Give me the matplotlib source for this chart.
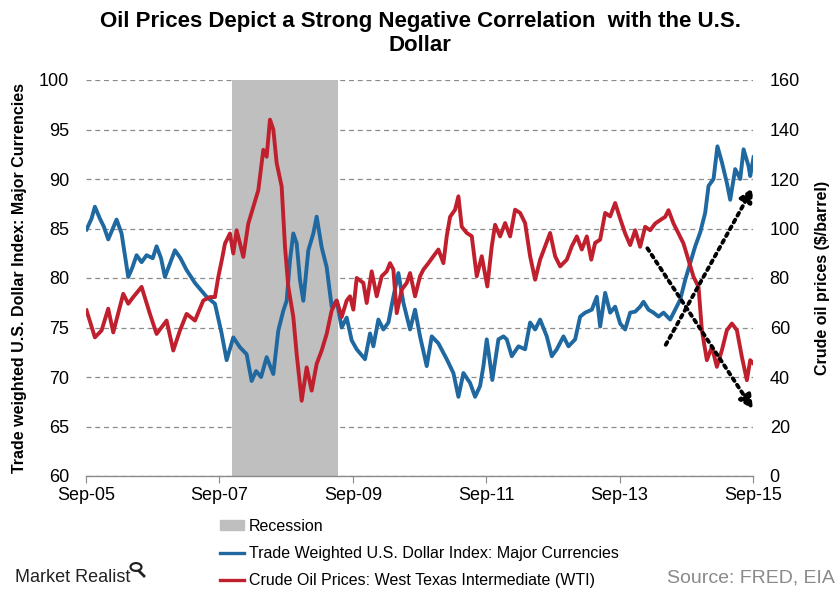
import matplotlib
matplotlib.use('Agg')
import matplotlib.pyplot as plt
from matplotlib.patches import Patch, Circle
from matplotlib.lines import Line2D

# months since Sep-2005 and index level
usd_months = [0.1, 1.0, 1.6, 2.5, 3.2, 4.0, 5.5, 6.4, 7.6, 8.3, 9.1, 10.0, 10.9, 12.0,
              12.7, 13.5, 14.2, 16.0, 17.0, 18.1, 19.6, 21.7, 23.2, 24.4, 25.3, 26.5,
              27.7, 28.9, 29.8, 30.6, 31.5, 32.5, 33.7, 34.6, 35.5, 36.1, 36.7, 37.3,
              37.9, 38.5, 39.1, 40.0, 40.9, 41.5, 42.4, 43.3, 44.2, 45.1, 46.0, 46.9,
              47.8, 48.7, 50.2, 51.1, 51.7, 52.6, 53.5, 54.4, 55.3, 56.2, 57.1, 58.3,
              59.2, 60.1, 61.3, 62.2, 63.4, 64.9, 66.1, 67.0, 67.9, 69.1, 70.0, 70.9,
              71.5, 72.1, 72.7, 73.1, 74.2, 75.1, 75.7, 76.6, 77.8, 79.0, 79.9, 80.8,
              81.7, 82.9, 83.8, 84.7, 85.9, 86.8, 88.0, 88.9, 89.8, 91.0, 91.9, 92.5,
              93.4, 94.3, 95.2, 96.1, 97.0, 97.9, 98.8, 99.7, 100.3, 101.2, 102.1, 103.0,
              103.9, 105.1, 106.0, 106.9, 107.8, 108.7, 109.6, 110.5, 111.4, 112.0, 112.9,
              113.6, 114.4, 115.3, 115.9, 116.8, 117.7, 118.3, 119.2, 119.5, 120.1]
usd_index = [84.9, 86.0, 87.2, 86.0, 85.2, 83.9, 85.9, 84.5, 80.1, 81.0, 82.3, 81.6, 82.3, 82.0,
             83.2, 82.0, 80.1, 82.8, 82.0, 80.8, 79.5, 78.1, 77.4, 74.4, 71.7, 74.0,
             73.0, 72.3, 69.6, 70.6, 70.0, 72.0, 70.3, 74.7, 76.7, 77.7, 81.8, 84.5,
             83.5, 79.8, 77.7, 82.8, 84.5, 86.2, 83.1, 81.1, 77.1, 77.7, 75.0, 76.0,
             73.7, 72.8, 71.8, 74.4, 73.1, 75.8, 74.8, 75.5, 78.1, 80.5, 77.5, 74.8,
             76.8, 74.1, 71.1, 74.1, 73.4, 71.8, 70.4, 68.0, 70.4, 69.4, 68.0, 69.1,
             71.1, 73.8, 71.4, 69.7, 73.8, 74.1, 73.8, 72.1, 73.1, 72.8, 75.5, 74.8,
             75.8, 74.1, 72.1, 72.8, 74.1, 73.1, 73.8, 76.1, 76.5, 76.8, 78.1, 75.1,
             78.5, 76.5, 77.1, 75.4, 74.8, 76.5, 76.6, 77.1, 77.6, 76.8, 76.5, 76.1,
             76.5, 75.8, 76.8, 77.8, 79.8, 81.5, 83.2, 84.6, 86.6, 89.3, 90.0,
             93.3, 91.7, 89.6, 87.9, 91.0, 90.0, 93.0, 91.3, 90.3, 92.2]

wti_months = [0.1, 1.6, 2.8, 4.0, 4.9, 6.7, 7.6, 8.5, 10.0, 11.5, 12.7, 14.5, 15.7, 16.9,
              18.1, 19.6, 21.1, 22.3, 23.2, 23.8, 24.5, 25.0, 25.9, 26.5, 27.1, 28.3,
              29.2, 30.1, 31.0, 31.9, 32.5, 33.1, 33.7, 34.3, 35.2, 35.8, 36.4, 37.3,
              37.9, 38.8, 39.7, 40.6, 41.5, 42.4, 43.3, 44.2, 45.1, 46.0, 46.9, 47.5,
              48.1, 48.7, 49.9, 50.5, 51.4, 52.3, 53.2, 54.1, 54.7, 55.3, 55.9, 56.8,
              57.7, 58.3, 59.2, 60.1, 60.7, 61.6, 62.5, 63.4, 64.3, 64.9, 65.5, 66.4,
              67.0, 67.6, 68.5, 69.4, 70.3, 71.2, 72.2, 73.0, 73.6, 74.5, 75.4, 76.3,
              77.2, 78.1, 79.0, 79.9, 80.8, 81.7, 82.6, 83.5, 84.4, 85.3, 86.5, 87.4,
              88.3, 89.2, 90.1, 90.9, 91.6, 92.5, 93.4, 94.3, 95.2, 96.1, 97.0, 97.9,
              98.8, 99.7, 100.6, 101.5, 102.4, 103.3, 104.2, 104.8, 105.7, 106.6, 107.5,
              108.4, 109.3, 110.2, 110.8, 111.7, 112.6, 113.5, 114.4, 115.3, 116.2,
              117.1, 118.0, 118.9, 119.5, 120.1]
wti_price = [66.9, 56.0, 58.8, 67.6, 58.0, 73.6, 69.6, 72.3, 76.4, 65.5, 57.4, 62.8, 50.7, 58.8,
             65.5, 62.8, 70.9, 72.3, 72.3, 80.4, 88.0, 93.9, 98.0, 89.9, 99.3, 88.5,
             102.0, 108.8, 115.5, 131.8, 129.0, 144.0, 140.0, 126.5, 117.0, 92.6, 76.4, 64.2,
             49.3, 30.4, 43.9, 34.5, 45.3, 50.7, 57.4, 66.9, 70.9, 64.2, 70.9, 72.6,
             67.2, 80.0, 78.0, 69.9, 82.7, 72.6, 80.7, 82.7, 86.0, 83.4, 65.8, 75.3,
             78.0, 82.0, 72.6, 80.7, 83.4, 86.0, 88.8, 91.5, 86.0, 96.9, 104.7, 107.6,
             113.0, 100.7, 98.2, 96.9, 80.7, 88.8, 76.6, 92.8, 101.5, 96.8, 102.2, 96.8,
             107.6, 106.3, 102.2, 88.8, 79.3, 87.4, 92.8, 98.2, 88.8, 84.7, 87.4, 92.8,
             96.8, 91.5, 96.8, 87.4, 94.2, 95.5, 106.3, 104.9, 110.3, 104.0, 98.0, 93.3,
             99.3, 92.6, 100.7, 99.3, 102.0, 103.4, 104.7, 107.4, 102.0, 98.0, 93.9,
             87.2, 80.5, 76.4, 58.9, 46.8, 52.2, 44.1, 50.8, 58.9, 61.6,
             58.9, 48.1, 38.7, 46.8, 45.4]

recession = (26.3, 45.3)
tick_months = [0, 24, 48, 72, 96, 120]
tick_labels = ['Sep-05', 'Sep-07', 'Sep-09', 'Sep-11', 'Sep-13', 'Sep-15']
arrow_down = ((101.0, 92.0), (120.0, 27.0))
arrow_up = ((104.3, 53.0), (120.0, 116.5))

BLUE = '#1f68a0'
RED = '#c0202d'
plt.rcParams['font.family'] = ['Liberation Sans', 'DejaVu Sans']

fig = plt.figure(figsize=(8.4, 6), dpi=100)
ax = fig.add_axes([86 / 840, 1 - 476 / 600, 667 / 840, 396 / 600])
ax2 = ax.twinx()

ax.axvspan(recession[0], recession[1], color='#bfbfbf', lw=0, zorder=1)
ax.plot(usd_months, usd_index, color=BLUE, lw=2.8, zorder=3)
ax2.plot(wti_months, wti_price, color=RED, lw=2.8, zorder=3)

for start, end in (arrow_down, arrow_up):
    ax2.annotate('', xy=end, xytext=start,
                 arrowprops=dict(arrowstyle='-|>,head_length=0.8,head_width=0.4',
                                 linestyle=(0, (0.8, 1.2)), lw=2.8, color='black',
                                 shrinkA=0, shrinkB=0))

ax.set_xlim(0, 120)
ax.set_ylim(60, 100)
ax2.set_ylim(0, 160)
ax.set_yticks(range(60, 101, 5))
ax2.set_yticks(range(0, 161, 20))
ax.set_xticks(tick_months)
ax.set_xticklabels(tick_labels)

ax.grid(axis='y', linestyle=(0, (4, 3)), color='#8c8c8c', lw=0.9)
ax.set_axisbelow(True)

for a in (ax, ax2):
    for s in ('left', 'right', 'top', 'bottom'):
        a.spines[s].set_visible(False)
ax.spines['bottom'].set_visible(True)
ax.spines['bottom'].set_color('#8a8a8a')
ax.spines['bottom'].set_linewidth(1.0)

ax.tick_params(axis='x', length=5, color='#8a8a8a', pad=3, labelsize=13)
ax.tick_params(axis='y', length=0, pad=12, labelsize=13)
ax2.tick_params(axis='y', length=0, pad=12, labelsize=13)

ax.set_ylabel('Trade weighted U.S. Dollar Index: Major Currencies',
              fontsize=11.5, fontweight='bold')
ax.yaxis.set_label_coords(-0.088, 0.5)
ax2.set_ylabel('Crude oil prices ($/barrel)', fontsize=11.5, fontweight='bold',
               rotation=90)
ax2.yaxis.set_label_coords(1.093, 0.5)

fig.text(0.5, 1 - 11 / 600, 'Oil Prices Depict a Strong Negative Correlation  with the U.S.\nDollar',
         ha='center', va='top', fontsize=16, fontweight='bold', linespacing=1.2)

handles = [Patch(color='#bfbfbf'),
           Line2D([], [], color=BLUE, lw=2.4),
           Line2D([], [], color=RED, lw=2.4)]
labels = ['Recession',
          'Trade Weighted U.S. Dollar Index: Major Currencies',
          'Crude Oil Prices: West Texas Intermediate (WTI)']
fig.legend(handles, labels, loc='upper left', bbox_to_anchor=(220 / 840, 1 - 519 / 600),
           frameon=False, prop={'size': 11.5},
           handlelength=1.5, handleheight=0.6, handletextpad=0.3, labelspacing=0.75,
           borderpad=0, borderaxespad=0)

fig.text(15 / 840, 1 - 578 / 600, 'Market Realist', ha='left', va='center',
         fontsize=13, color='#222222')
fig.patches.append(Circle((136 / 840, 1 - 567 / 600), 0.0065, transform=fig.transFigure,
                          fill=False, lw=1.6, color='#222222'))
fig.add_artist(Line2D([139 / 840, 144 / 840], [1 - 571 / 600, 1 - 576 / 600],
                      transform=fig.transFigure, lw=2, color='#222222'))

fig.text(835 / 840, 1 - 578 / 600, 'Source: FRED, EIA', ha='right', va='center',
         fontsize=14, color='#8a8a8a')

fig.savefig('out.png', dpi=100)
